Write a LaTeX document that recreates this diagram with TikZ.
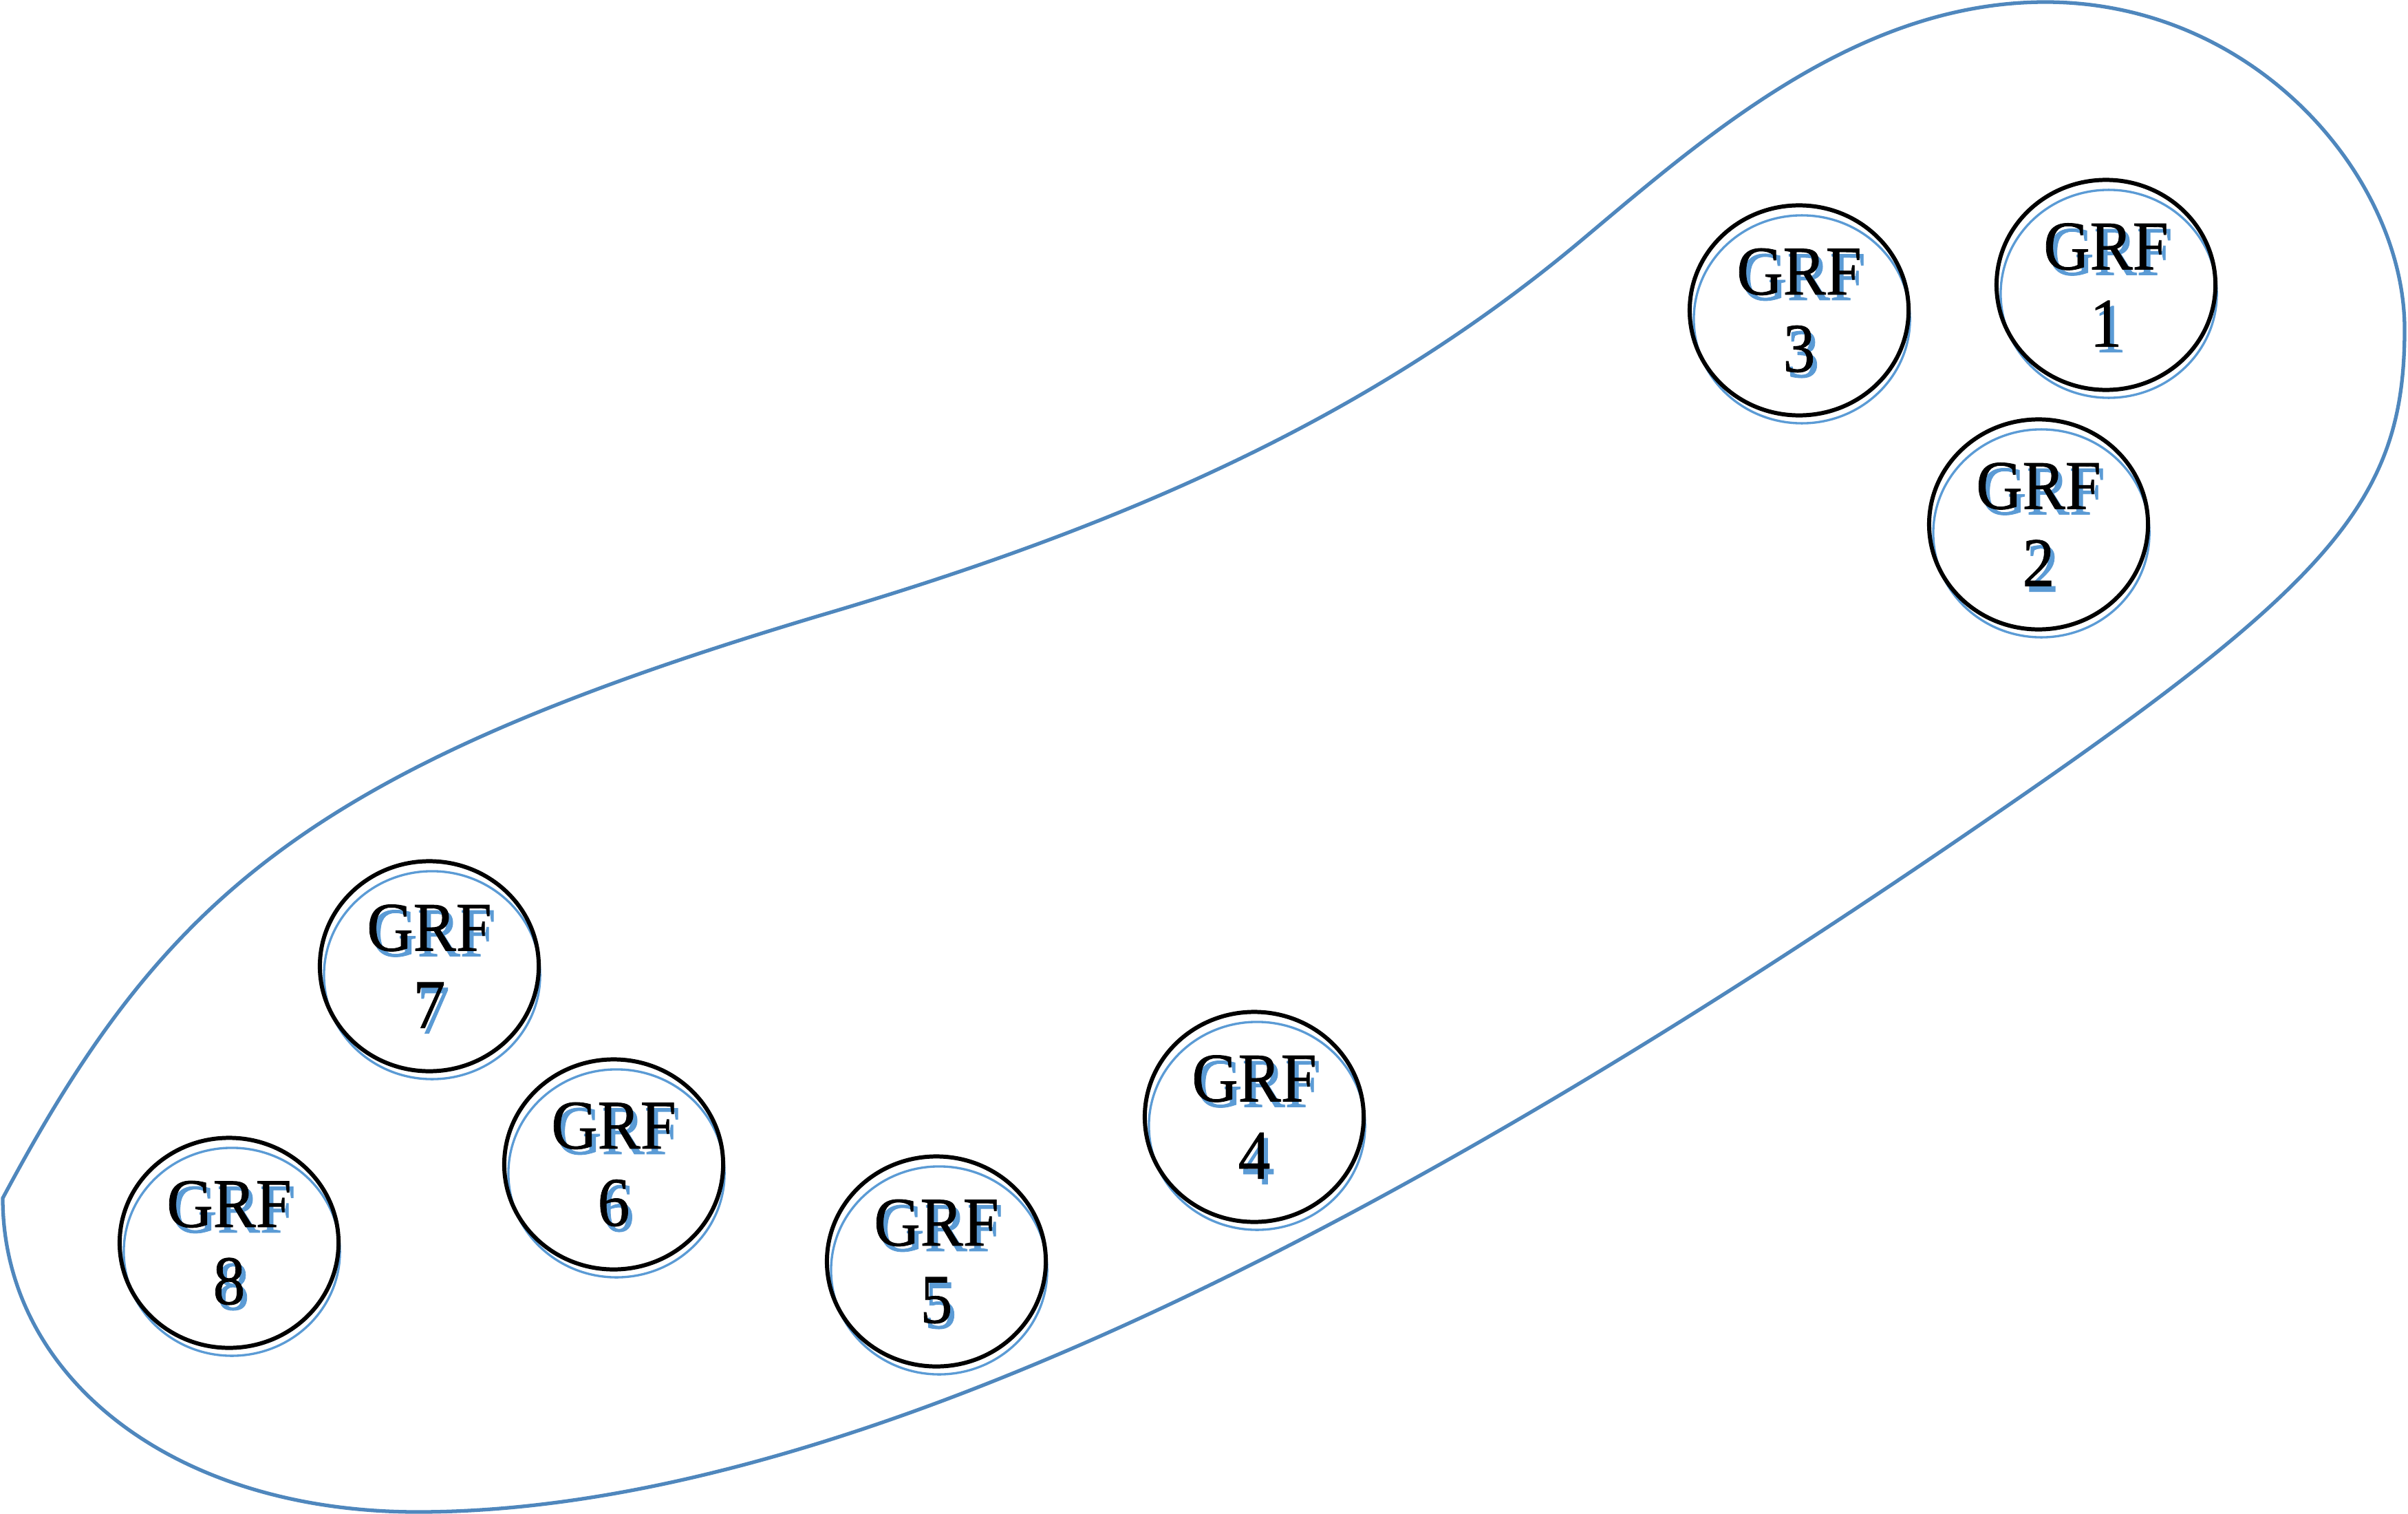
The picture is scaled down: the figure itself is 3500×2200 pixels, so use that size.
\documentclass[tikz,border=0pt]{standalone}
\usepackage{fontspec}
\setmainfont{Liberation Serif}[FakeStretch=0.92, FakeBold=0.8]
\usetikzlibrary{shapes.geometric}
\definecolor{outlineblue}{HTML}{4F87BD}
\definecolor{shadowblue}{HTML}{5B9BD5}
\tikzset{
  ring/.style={ellipse, draw=black, line width=1.7pt, minimum width=3.18cm, minimum height=3.05cm, inner sep=0pt},
  ringshadow/.style={ellipse, draw=shadowblue, line width=0.95pt, minimum width=3.14cm, minimum height=3.02cm, inner sep=0pt},
  grftext/.style={align=center, inner sep=0pt, font=\fontsize{28.8pt}{31.9pt}\selectfont},
  outline/.style={draw=outlineblue, line width=1.5pt, line join=miter}
}
\newcommand{\grfunit}[3]{%
  \node[ringshadow] (s#1) at (#2+4,#3+13) {};
  \node[grftext, text=shadowblue] (t#1) at (#2+6,#3+8) {GRF\\#1};
  \node[ring, grftext] (g#1) at (#2,#3) {GRF\\#1};
}
\begin{document}
\begin{tikzpicture}[x=0.01cm, y=-0.01cm]
\useasboundingbox (0,0) rectangle (3500,2200);
\coordinate (corner) at (4,1741);
\draw[outline] (corner)
  .. controls (240,1300) and (450,1115) .. (1200,892)
  .. controls (1650,759) and (2000,600) .. (2300,348)
  .. controls (2480,197) and (2700,3) .. (2973,3)
  .. controls (3280,3) and (3495,260) .. (3495,478)
  .. controls (3495,720) and (3400,840) .. (2903,1181)
  .. controls (2200,1666) and (1300,2197) .. (607,2197)
  .. controls (250,2197) and (4,2000) .. (corner) -- cycle;
\grfunit{1}{3061}{414}
\grfunit{2}{2963}{762}
\grfunit{3}{2615}{451}
\grfunit{4}{1823}{1623}
\grfunit{5}{1361}{1833}
\grfunit{6}{892}{1692}
\grfunit{7}{624}{1404}
\grfunit{8}{333}{1806}
\end{tikzpicture}
\end{document}
